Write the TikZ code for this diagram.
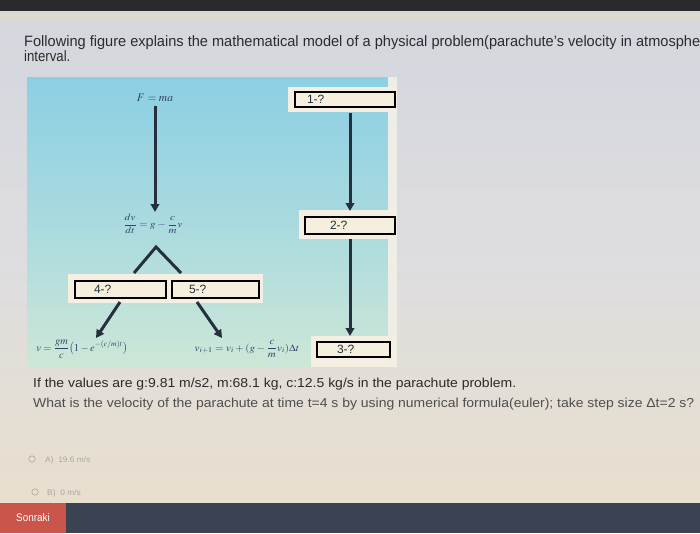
\documentclass[tikz,border=0pt]{standalone}
\usepackage{mathptmx}
\usepackage{fontspec}
\setsansfont{Liberation Sans}
\usepackage{graphicx}
\usetikzlibrary{arrows.meta}
\definecolor{pagetop}{HTML}{D4D6DE}
\definecolor{pagemid}{HTML}{DDDDE0}
\definecolor{pagebot}{HTML}{E8DFCE}
\definecolor{paneltop}{HTML}{8CCFE3}
\definecolor{panelmid}{HTML}{A9DADF}
\definecolor{panelbot}{HTML}{CDE7D7}
\definecolor{strip}{HTML}{EEEDE6}
\definecolor{boxfill}{HTML}{F6EFDE}
\definecolor{backing}{HTML}{F4EFE1}
\definecolor{ink}{HTML}{252F3E}
\definecolor{mathink}{HTML}{33446A}
\definecolor{txt}{HTML}{2B2B2B}
\definecolor{txttwo}{HTML}{4E4E4E}
\definecolor{faint}{HTML}{ABA79D}
\definecolor{navbar}{HTML}{3B4252}
\definecolor{btn}{HTML}{C9554B}
\definecolor{topbar}{HTML}{2A2A2C}
\definecolor{topband}{HTML}{DCD9D0}
\tikzset{
  qbox/.style={draw=black, line width=2pt, fill=boxfill, anchor=west, align=left,
    inner ysep=0pt, text=ink, font=\sffamily\fontsize{12}{12}\selectfont},
  arr/.style={draw=ink, line width=3pt, -{Triangle[width=8.5pt,length=8pt]}},
  leg/.style={draw=ink, line width=3pt},
  formula/.style={text=mathink, inner sep=0pt},
  headtext/.style={anchor=base west, inner sep=0pt, text=txt, font=\sffamily\fontsize{15}{15}\selectfont},
  qtext/.style={anchor=base west, inner sep=0pt, font=\sffamily\fontsize{13}{13}\selectfont},
  opt/.style={anchor=base west, inner sep=0pt, text=faint, font=\sffamily\fontsize{8}{8}\selectfont},
}
\begin{document}
\begin{tikzpicture}[x=1pt,y=-1pt]
\useasboundingbox (0,0) rectangle (700,533);
% page background
\shade[top color=pagetop, bottom color=pagemid] (0,0) rectangle (700,250);
\shade[top color=pagemid, bottom color=pagebot] (0,250) rectangle (700,503);
\fill[topbar] (0,0) rectangle (700,11);
\fill[topband] (0,11) rectangle (700,21);
% heading
\node[headtext] (h1) at (24,46) {\resizebox{676pt}{\height}{Following figure explains the mathematical model of a physical problem(parachute's velocity in atmosphe}};
\node[headtext] (h2) at (24,61) {\scalebox{0.88}[1]{interval.}};
% panel
\shade[top color=paneltop, bottom color=panelbot, middle color=panelmid] (27,77) rectangle (388,367);
\fill[strip] (388,77) rectangle (397,367);
% backings
\fill[backing] (288,87) rectangle (397,112);
\fill[backing] (299,210) rectangle (397,239);
\fill[backing] (311,336) rectangle (396,367);
\fill[backing] (68,274) rectangle (263,303);
% boxes
\node[qbox, minimum width=100pt, minimum height=15pt, inner xsep=12pt, text width=76pt] (b1) at (294,99.5) {1-?};
\node[qbox, minimum width=90pt, minimum height=17pt, inner xsep=25pt, text width=40pt] (b2) at (304,225) {2-?};
\node[qbox, minimum width=73pt, minimum height=15pt, inner xsep=20pt, text width=33pt] (b3) at (316,349.5) {3-?};
\node[qbox, minimum width=91pt, minimum height=17pt, inner xsep=19pt, text width=53pt] (b4) at (74,289) {4-?};
\node[qbox, minimum width=87pt, minimum height=17pt, inner xsep=17pt, text width=53pt] (b5) at (171,289) {5-?};
% formulas
\node[formula, font=\fontsize{11.5}{12}\selectfont] (fma) at (155,98) {$F = ma$};
\node[formula, font=\fontsize{11}{12}\selectfont] (dvdt) at (153,224) {\scalebox{1}[0.85]{$\displaystyle\frac{dv}{dt} = g - \frac{c}{m}v$}};
\node[formula, font=\fontsize{10.5}{12}\selectfont] (vexact) at (82,349) {$\displaystyle v = \frac{gm}{c}\bigl(1 - e^{-(c/m)t}\bigr)$};
\node[formula, font=\fontsize{11}{12}\selectfont] (veuler) at (247,349) {\scalebox{1}[0.9]{$v_{i+1} = v_i + (g - {\displaystyle\frac{c}{m}}v_i)\Delta t$}};
% connector helpers
\coordinate (colx) at (350,0);
\coordinate (fmx) at (155,0);
\coordinate (apex) at (156,247);
\coordinate (legL) at (134,273);
\coordinate (legR) at (181,273);
\coordinate (s4) at (120,302);
\coordinate (t4) at (96,338);
\coordinate (s5) at (197,302);
\coordinate (t5) at (222,338);
% connectors
\draw[arr] (fma.south -| fmx) ++(0,4) coordinate (fs) (fs) -- (155,212) coordinate (ft);
\draw[leg] (legL) -- (apex) -- (legR);
\draw[arr] (b1.south -| colx) ++(0,5) coordinate (c1) (c1) -- (350,211) coordinate (c2);
\draw[arr] (b2.south -| colx) ++(0,4) coordinate (c3) (c3) -- (350,336) coordinate (c4);
\draw[arr] (s4) -- (t4);
\draw[arr] (s5) -- (t5);
% question
\node[qtext, text=txt] (q1) at (33,387) {\resizebox{483pt}{\height}{If the values are g:9.81 m/s2, m:68.1 kg, c:12.5 kg/s in the parachute problem.}};
\node[qtext, text=txttwo] (q2) at (33,407) {\resizebox{661pt}{\height}{What is the velocity of the parachute at time t=4 s by using numerical formula(euler); take step size Δt=2 s?}};
% options
\draw[faint, line width=0.6pt] (32,459) circle (3.2);
\node[opt] (oa) at (45,462) {\scalebox{1.05}[1]{A)\ \ 19.6 m/s}};
\draw[faint, line width=0.6pt] (35,492) circle (3.2);
\node[opt] (ob) at (47,495) {\scalebox{1.05}[1]{B)\ \ 0 m/s}};
% bottom bar
\fill[navbar] (0,503) rectangle (700,533);
\fill[btn] (0,503) rectangle (66,533);
\node[text=white, font=\sffamily\fontsize{11}{11}\selectfont, inner sep=0pt] (sonraki) at (33,518) {\scalebox{0.9}[1]{Sonraki}};
\end{tikzpicture}
\end{document}
